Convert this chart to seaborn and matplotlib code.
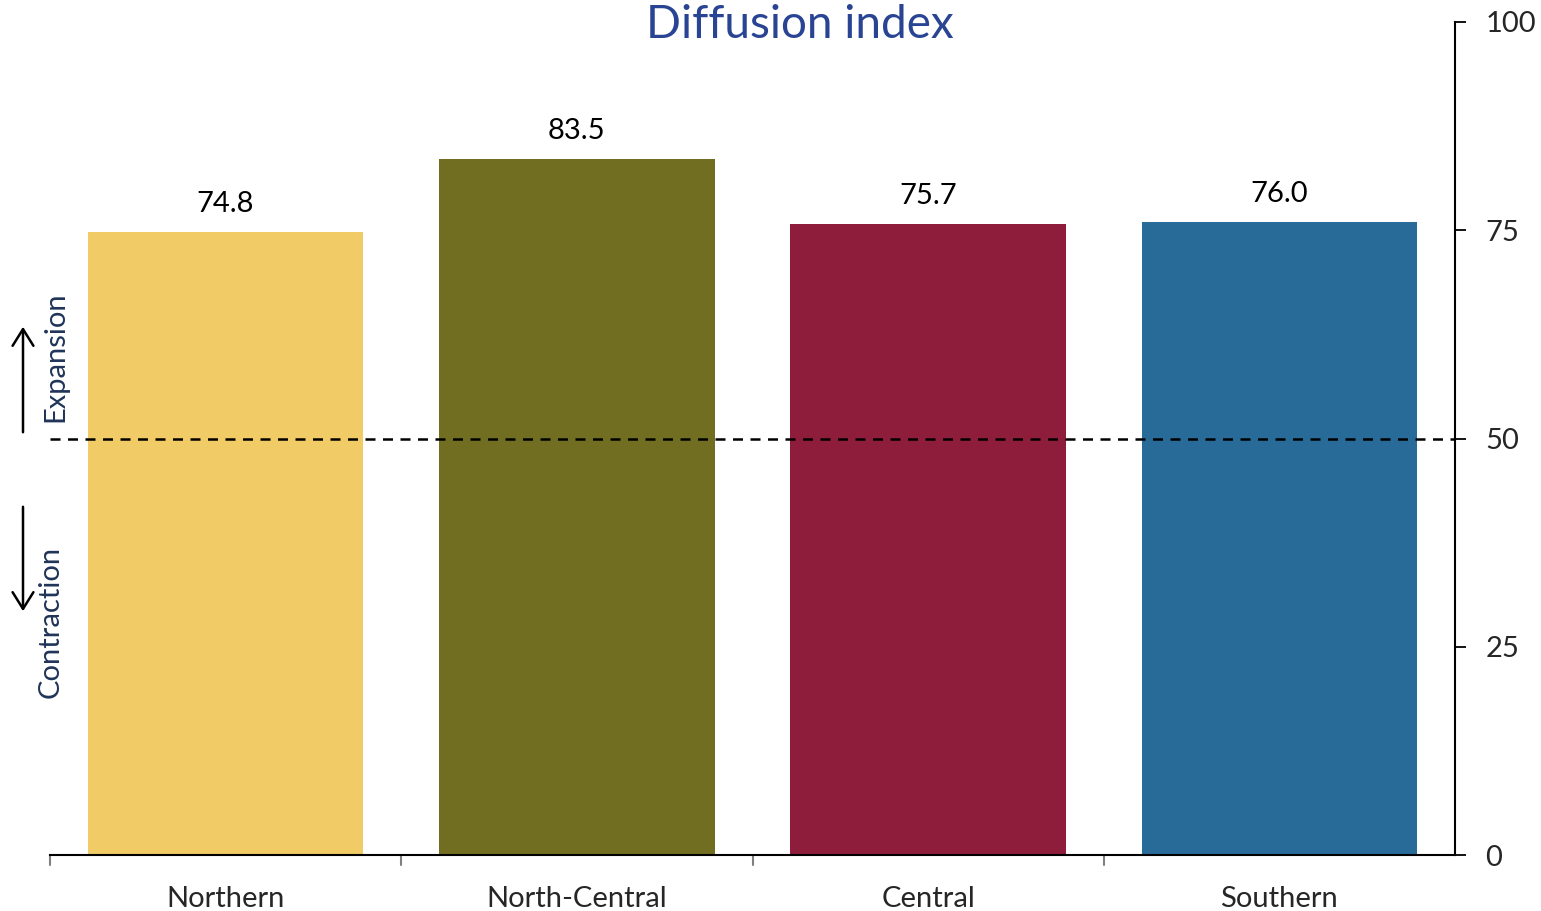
import matplotlib
matplotlib.use("Agg")
import matplotlib.pyplot as plt
import seaborn as sns
import pandas as pd

regions = ["Northern", "North-Central", "Central", "Southern"]
values = [74.8, 83.5, 75.7, 76.0]
colors = ["#F0CB66", "#726E21", "#8E1C3B", "#286B99"]
yticks = [0, 25, 50, 75, 100]
threshold = 50

sns.set_theme(style="white")
plt.rcParams['font.family'] = ['Lato', 'DejaVu Sans']

df = pd.DataFrame({"region": regions, "value": values})

fig = plt.figure(figsize=(15.41, 9.11), dpi=100)
ax = fig.add_axes([50/1541, 1-855/911, (1455-50)/1541, (855-22)/911])

sns.barplot(data=df, x="region", y="value", hue="region", palette=colors,
            width=0.785, saturation=1, legend=False, linewidth=0, ax=ax)

ax.set_ylim(0, 100)
ax.set_xlim(-0.5, len(regions) - 0.5)
ax.axhline(threshold, color="black", linestyle=(0, (4, 3)), linewidth=1.8, zorder=5)

for i, v in enumerate(values):
    ax.text(i, v + 1.85, f"{v:.1f}", ha="center", va="bottom", fontsize=21, color="black")

# axes styling
ax.yaxis.tick_right()
ax.set_yticks(yticks)
ax.set_yticklabels([str(t) for t in yticks], fontsize=21)
ax.tick_params(axis="y", direction="out", length=8, width=1.3, color="black", pad=14)
ax.set_xticks(range(len(regions)))
ax.set_xticklabels(regions, fontsize=21)
ax.tick_params(axis="x", length=0, pad=22)
for b in [-0.5, 0.5, 1.5, 2.5]:
    ax.plot([b, b], [0, -1.2], color="#808080", lw=1.5, clip_on=False)
ax.set_xlabel("")
ax.set_ylabel("")
for s in ["top", "left"]:
    ax.spines[s].set_visible(False)
ax.spines["right"].set_color("black")
ax.spines["right"].set_linewidth(1.5)
ax.spines["bottom"].set_color("black")
ax.spines["bottom"].set_linewidth(1.5)

fig.text(800/1541, 1-25/911, "Diffusion index", ha="center", va="center",
         fontsize=33, color="#2A4494")

# Expansion / Contraction annotations
fig.text(55/1541, 1-357/911, "Expansion", rotation=90, ha="center", va="center",
         fontsize=21, color="#1F3458")
fig.text(51/1541, 1-622/911, "Contraction", rotation=90, ha="center", va="center",
         fontsize=21, color="#1F3458")
fig.add_artist(matplotlib.patches.FancyArrowPatch(
    (23/1541, 1-435/911), (23/1541, 1-324/911), transform=fig.transFigure,
    arrowstyle="->,head_length=8,head_width=5", color="black", lw=1.8, mutation_scale=1.5))
fig.add_artist(matplotlib.patches.FancyArrowPatch(
    (23/1541, 1-504/911), (23/1541, 1-614/911), transform=fig.transFigure,
    arrowstyle="->,head_length=8,head_width=5", color="black", lw=1.8, mutation_scale=1.5))

fig.savefig("out.png", dpi=100)
